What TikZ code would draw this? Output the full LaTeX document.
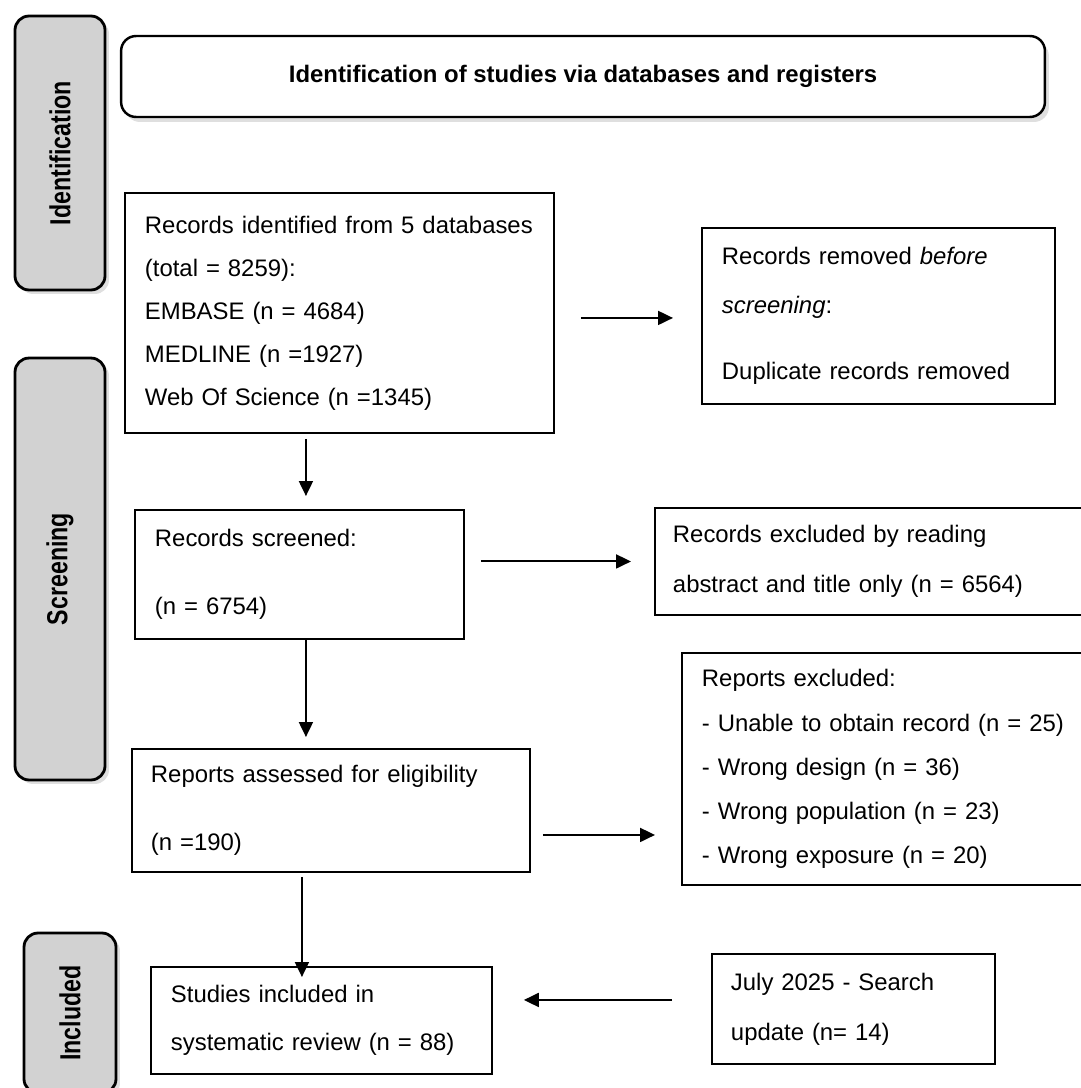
\documentclass[tikz,border=0pt]{standalone}
\usepackage{fontspec}
\setmainfont{Liberation Sans}
\newfontfamily\phasefont[FakeStretch=0.8]{Liberation Sans}
\usetikzlibrary{arrows.meta,shadows}
\definecolor{phasegray}{RGB}{210,210,210}
\begin{document}
\begin{tikzpicture}[x=0.02cm, y=-0.02cm,
  phase/.style={draw, line width=1.6pt, rounded corners=0.28cm, fill=phasegray,
    minimum width=1.8cm, font=\phasefont\bfseries\fontsize{16.5}{18}\selectfont,
    drop shadow={shadow xshift=0.08cm, shadow yshift=-0.08cm, opacity=0.25}},
  head/.style={draw, line width=1.4pt, rounded corners=0.3cm, fill=white,
    minimum width=18.48cm, minimum height=1.62cm, font=\bfseries\fontsize{13.6}{16}\selectfont,
    drop shadow={shadow xshift=0.08cm, shadow yshift=-0.1cm, opacity=0.25}},
  record/.style={draw, line width=1.1pt, anchor=north west, align=left,
    inner xsep=0.4cm, inner ysep=0pt, font=\fontsize{13.6}{#1}\selectfont},
  link/.style={line width=1.1pt, -{Triangle[length=0.3cm, width=0.28cm]}}
]
\useasboundingbox (0,0) rectangle (1081,1088);

\node[phase, minimum height=5.48cm] (ident) at (60,153) {\rotatebox{90}{Identification}};
\node[phase, minimum height=8.44cm] (screen) at (60,569) {\rotatebox{90}{Screening}};
\node[phase, minimum width=1.84cm, minimum height=3.2cm] (incl) at (70,1013) {\rotatebox{90}{Included}};

\node[head] (title) at (583,76.5) {Identification of studies via databases and registers};

\node[record=24.5pt, text width=7.78cm, minimum height=4.8cm] (found) at (124,192)
  {Records identified from 5 databases\\ (total = 8259):\\ EMBASE (n = 4684)\\ MEDLINE (n =1927)\\ Web Of Science (n =1345)};
\node[record=27.9pt, text width=6.26cm, minimum height=3.52cm] (removed) at (701,227)
  {Records removed \textit{before}\\ \textit{screening}:\\[9.6pt] Duplicate records removed};
\node[record=39.1pt, text width=5.78cm, minimum height=2.58cm] (screened) at (134,509)
  {Records screened:\\ (n = 6754)};
\node[record=28.3pt, inner xsep=0.36cm, text width=8.1cm, minimum height=2.14cm] (excluded) at (654,507)
  {Records excluded by reading\\ abstract and title only (n = 6564)};
\node[record=25.1pt, text width=7.48cm, minimum height=4.64cm] (reports) at (681,652)
  {Reports excluded:\\ - Unable to obtain record (n = 25)\\ - Wrong design (n = 36)\\ - Wrong population (n = 23)\\ - Wrong exposure (n = 20)};
\node[record=39.1pt, inner xsep=0.38cm, text width=7.2cm, minimum height=2.46cm] (assessed) at (131,748)
  {Reports assessed for eligibility\\ (n =190)};
\node[record=27.2pt, text width=6.02cm, minimum height=2.14cm] (studies) at (150,966)
  {Studies included in\\ systematic review (n = 88)};
\node[record=28.3pt, inner xsep=0.38cm, text width=4.9cm, minimum height=2.2cm] (search) at (711,953)
  {July 2025 - Search\\ update (n= 14)};

\draw[link, shorten <=0.52cm, shorten >=0.56cm] ([yshift=-0.1cm]found.east) -- ([yshift=-0.1cm]found.east -| removed.west);
\draw[link, shorten <=0.1cm, shorten >=0.26cm] ([xshift=0.13cm]screened.north |- found.south) -- ([xshift=0.13cm]screened.north);
\draw[link, shorten <=0.32cm, shorten >=0.46cm] (screened.east |- excluded.west) -- (excluded.west);
\draw[link, shorten >=0.22cm] ([xshift=0.13cm]screened.south) -- ([xshift=0.13cm]screened.south |- assessed.north);
\draw[link, shorten <=0.24cm, shorten >=0.52cm] ([yshift=-0.49cm]assessed.east) -- ([yshift=-0.49cm]assessed.east -| reports.west);
\draw[link, shorten <=0.08cm, shorten >=-0.22cm] ([xshift=-0.58cm]assessed.south) -- ([xshift=-0.58cm]assessed.south |- studies.north);
\draw[link, shorten <=0.78cm, shorten >=0.62cm] ([yshift=0.18cm]search.west) -- ([yshift=0.18cm]search.west -| studies.east);
\end{tikzpicture}
\end{document}
